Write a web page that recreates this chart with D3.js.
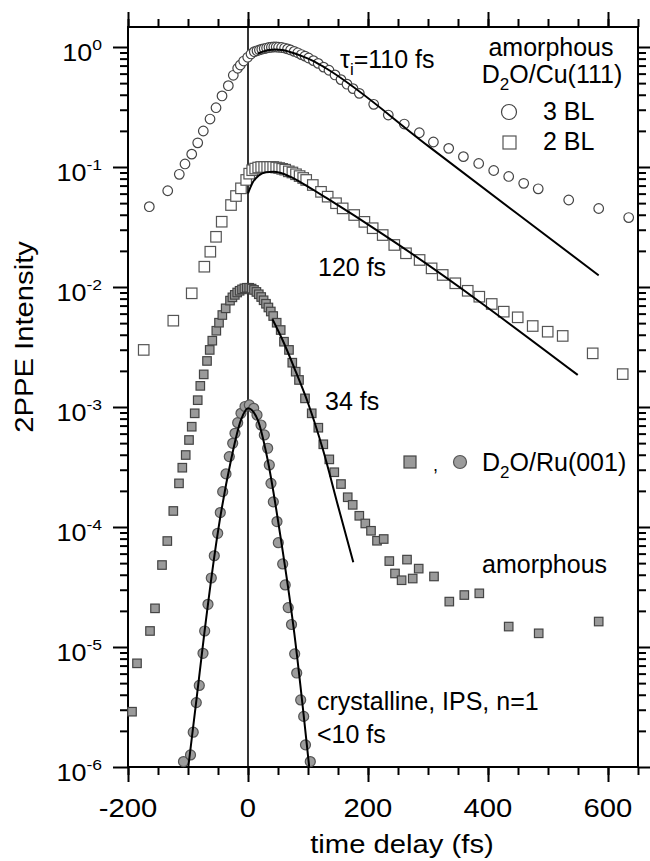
<!DOCTYPE html>
<html><head><meta charset="utf-8">
<script src="https://cdn.jsdelivr.net/npm/d3@7"></script>
<style>
body{margin:0;background:#fff}
svg{display:block}
text{font-family:"Liberation Sans",Arial,Helvetica,sans-serif;fill:#000}
</style>
</head><body>
<svg id="c" width="650" height="861"></svg>
<script>
// ---------- data ----------
// 3 BL amorphous D2O/Cu(111) (open circles)
const bl3T = [-164.5,-133.8,-114.5,-105,-93.8,-83.8,-74.5,-63.3,-53.3,-43.3,-32.8,-24.5,-17.2,-12.8,-7.2,-0.5,5,10.5,
  15,19,23,27,31,35,39,43,47,51,56,61,66,71,77,83,89,95,101,109,117,126,135,145,155,165,175,
  185.5,209.5,233.8,260.5,285.5,309,334.5,359,384.5,409.5,434.5,459.5,483.7,534.5,584.5,634.5];
const bl3I = [0.0467,0.0634,0.0869,0.106,0.128,0.159,0.1995,0.251,0.312,0.391,0.476,0.581,0.665,0.708,0.764,0.821,0.875,0.914,
  0.93,0.945,0.96,0.97,0.98,0.99,0.995,1.0,1.0,0.995,0.99,0.98,0.965,0.945,0.92,0.895,0.865,0.84,0.81,0.77,0.73,0.68,0.64,0.585,0.535,0.49,0.45,
  0.411,0.333,0.271,0.228,0.193,0.1615,0.143,0.122,0.107,0.0935,0.0834,0.0731,0.0658,0.0531,0.0451,0.0379];
// 3 BL fit (tau = 110 fs)
const fit3T = [16,25,35,45,57,70,90,110,130,300,450,584.5];
const fit3I = [0.88,0.915,0.945,0.955,0.945,0.91,0.84,0.76,0.665,0.150,0.0404,0.0125];

// 2 BL (open squares)
const bl2T = [-173.8,-124.5,-93.8,-72.8,-62.8,-53.3,-43.8,-28.3,-20,-11.7,-3,2,
  7,12,17,22,27,32,37,42,47,52,57,62,68,74,80,86,92,97,108,121.7,132.8,146.7,157.8,177,194,207.8,224.5,243.8,263.3,286,306,324.5,345.5,366.2,385.5,406.2,426.2,449.5,474.5,499.5,524.5,574.5,624.5];
const bl2I = [0.00299,0.00524,0.00886,0.01476,0.01968,0.0262,0.035,0.0482,0.0573,0.0664,0.078,0.088,
  0.094,0.097,0.099,0.1,0.1,0.1,0.1,0.1,0.099,0.098,0.0965,0.095,0.092,0.09,0.087,0.084,0.081,0.078,0.0708,0.0621,0.0566,0.0499,0.0452,0.0398,0.0349,0.0309,0.0271,0.0224,0.0191,0.0168,0.0143,0.0126,0.01074,0.0093,0.0083,0.00722,0.00623,0.00559,0.00473,0.00424,0.00391,0.0028,0.00188];
// 2 BL fit (120 fs)
const fit2T = [0,8,18,30,42,55,70,90,110,130,227,549.5];
const fit2I = [0.0604,0.0745,0.085,0.0905,0.0915,0.089,0.083,0.0735,0.064,0.0555,0.0271,0.00185];

// amorphous D2O/Ru(001) (grey squares)
const ruT = [-193.3,-185,-163.3,-155,-143.3,-134.5,-124.5,-115,-109.5,-103.8,-98.3,-93.8,-88.8,-83.8,-79.5,-73.8,-68.3,-63.8,-59.5,-52.8,-48.3,-42.8,-37.2,
  -30,-26,-22,-18,-14,-10,-6,-2,2,6,10,14,18,22,26,30,34,38,42,47.8,54.5,60,68.3,73.8,79.5,85,95,106.2,117.2,125.5,135.5,143.8,155,166.2,174.5,185.5,195.5,205,215,226.2,
  235.5,245,256,265,274.5,284.5,310,335.5,360.5,385.5,434.5,484.5,584.5];
const ruI = [2.89e-6,7.31e-6,1.36e-5,2.1e-5,4.82e-5,7.64e-5,1.36e-4,2.31e-4,3.12e-4,3.98e-4,5.31e-4,6.85e-4,8.86e-4,1.14e-3,1.5e-3,1.87e-3,2.42e-3,2.99e-3,3.57e-3,4.32e-3,5.04e-3,5.84e-3,6.64e-3,
  7.7e-3,8.2e-3,8.6e-3,9.0e-3,9.3e-3,9.55e-3,9.75e-3,9.85e-3,9.85e-3,9.7e-3,9.45e-3,9.1e-3,8.7e-3,8.25e-3,7.75e-3,7.25e-3,6.75e-3,6.25e-3,5.73e-3,5.04e-3,4.38e-3,3.5e-3,2.99e-3,2.34e-3,1.97e-3,1.68e-3,1.18e-3,8.86e-4,6.72e-4,4.89e-4,3.66e-4,2.86e-4,2.28e-4,1.77e-4,1.53e-4,1.24e-4,1.07e-4,9.3e-5,7.68e-5,7.94e-5,
  5.2e-5,4.1e-5,3.6e-5,5.35e-5,3.72e-5,4.5e-5,3.87e-5,2.39e-5,2.71e-5,2.8e-5,1.48e-5,1.3e-5,1.63e-5];
// Ru amorphous fit (34 fs)
const fitRuT = [40.8,60,80,100,125,150,175.5];
const fitRuI = [5.38e-3,3.4e-3,1.95e-3,1.08e-3,4.4e-4,1.5e-4,5.08e-5];

// crystalline IPS n=1 (grey circles)
const crT = [-107.5,-95.8,-91.3,-86.2,-81.2,-75,-72.2,-66.7,-61.2,-56.2,-50.5,-46.2,-42.2,-36.7,-31.2,-25.5,-21.7,-17.2,-11.7,-5,2.2,
  9.5,15,21.7,27.2,32.8,35.5,38.3,42.2,48.3,50.5,57.8,62,67,72.5,77.8,81.2,87.8,92.8,95.8,103.8];
const crI = [1.11e-6,1.26e-6,1.95e-6,3.44e-6,4.78e-6,8.86e-6,1.36e-5,2.27e-5,3.76e-5,5.76e-5,8.86e-5,1.32e-4,1.97e-4,2.77e-4,3.86e-4,4.98e-4,6.04e-4,7.4e-4,8.86e-4,1.01e-3,1.04e-3,
  9.75e-4,8.58e-4,7.08e-4,5.85e-4,4.53e-4,3.29e-4,2.31e-4,1.62e-4,1.11e-4,7.4e-5,4.92e-5,3.29e-5,2.13e-5,1.54e-5,8.77e-6,6.07e-6,3.62e-6,2.64e-6,1.53e-6,1.11e-6];
// crystalline fit (<10 fs)
const fitCrT = [-99.5,-86,-72.8,-50.5,-28.3,-11.7,0,16.2,32.8,55,77.2,102];
const fitCrI = [1e-6,3.6e-6,1.3e-5,8.86e-5,3.62e-4,7.8e-4,9.75e-4,7.8e-4,3.62e-4,7.8e-5,1.3e-5,1e-6];

// ticks
const xMajorTicks = [-200,0,200,400,600];
const xTickLabels = ["-200","0","200","400","600"];
const xMinorTicks = [-200,-150,-100,-50,0,50,100,150,200,250,300,350,400,450,500,550,600,650];
const yDecades = [1e-6,1e-5,1e-4,1e-3,1e-2,1e-1,1];
const yExp = ["-6","-5","-4","-3","-2","-1","0"];
const yMinorMult = [2,3,4,5,6,7,8,9];

// ---------- chart ----------
const svg = d3.select('#c');
const L=128, R=638, T=27, B=767;
const SX = 1.17; // horizontal stretch of the axis lettering
const x = d3.scaleLinear().domain([-200,650]).range([L,R]);
const y = d3.scaleLog().domain([1e-6, Math.pow(10,1/6)]).range([B,T]);

const yMinor = [];
yDecades.forEach(d=>yMinorMult.forEach(m=>{ if(d*m<=y.domain()[1]) yMinor.push(d*m); }));

function styleAxis(g){ g.select('.domain').remove(); g.selectAll('.tick line').attr('stroke','#000').attr('stroke-width',2); }

// bottom
svg.append('g').attr('transform',`translate(0,${B})`).call(d3.axisBottom(x).tickValues(xMinorTicks).tickSize(8).tickFormat('')).call(styleAxis);
svg.append('g').attr('transform',`translate(0,${B})`).call(d3.axisBottom(x).tickValues(xMajorTicks).tickSize(15).tickFormat('')).call(styleAxis);
// top
svg.append('g').attr('transform',`translate(0,${T})`).call(d3.axisTop(x).tickValues(xMinorTicks).tickSize(8).tickFormat('')).call(styleAxis);
svg.append('g').attr('transform',`translate(0,${T})`).call(d3.axisTop(x).tickValues(xMajorTicks).tickSize(15).tickFormat('')).call(styleAxis);
// left
svg.append('g').attr('transform',`translate(${L},0)`).call(d3.axisLeft(y).tickValues(yMinor).tickSize(8).tickFormat('')).call(styleAxis);
svg.append('g').attr('transform',`translate(${L},0)`).call(d3.axisLeft(y).tickValues(yDecades).tickSize(15).tickFormat('')).call(styleAxis);
// right
svg.append('g').attr('transform',`translate(${R},0)`).call(d3.axisRight(y).tickValues(yMinor).tickSize(8).tickFormat('')).call(styleAxis);
svg.append('g').attr('transform',`translate(${R},0)`).call(d3.axisRight(y).tickValues(yDecades).tickSize(15).tickFormat('')).call(styleAxis);

// x tick labels
const xlab = svg.append('g');
xMajorTicks.forEach((v,i)=>{
  xlab.append('text').attr('transform',`translate(${x(v)},${B+50}) scale(${SX},1)`)
    .attr('text-anchor','middle').attr('font-size',25).text(xTickLabels[i]);
});
// y tick labels 10^n
const ylab = svg.append('g');
yDecades.forEach((d,i)=>{
  const t = ylab.append('text').attr('transform',`translate(102,${y(d)+14}) scale(${SX},1)`).attr('text-anchor','end').attr('font-size',23);
  t.append('tspan').text('10');
  t.append('tspan').attr('dy',-11).attr('font-size',15).text(yExp[i]);
});

// frame
svg.append('rect').attr('x',L).attr('y',T).attr('width',R-L).attr('height',B-T).attr('fill','none').attr('stroke','#000').attr('stroke-width',2);
// zero line
svg.append('line').attr('x1',x(0)).attr('x2',x(0)).attr('y1',T).attr('y2',B).attr('stroke','#000').attr('stroke-width',1.6);

const plot = svg.append('g');
const line = d3.line().x(d=>x(d[0])).y(d=>y(d[1])).curve(d3.curveMonotoneX);
const zip = (a,b)=>a.map((v,i)=>[v,b[i]]);

function circles(T_,I_,r,fill,stroke){
  plot.append('g').selectAll('circle').data(zip(T_,I_)).join('circle')
    .attr('cx',d=>x(d[0])).attr('cy',d=>y(d[1])).attr('r',r)
    .attr('fill',fill).attr('stroke',stroke).attr('stroke-width',1.2);
}
function squares(T_,I_,s,fill,stroke){
  plot.append('g').selectAll('rect').data(zip(T_,I_)).join('rect')
    .attr('x',d=>x(d[0])-s/2).attr('y',d=>y(d[1])-s/2).attr('width',s).attr('height',s)
    .attr('fill',fill).attr('stroke',stroke).attr('stroke-width',1.2);
}
function fit(T_,I_){
  plot.append('path').datum(zip(T_,I_)).attr('d',line).attr('fill','none').attr('stroke','#000').attr('stroke-width',2);
}

squares(ruT,ruI,8.5,'#9a9a9a','#444');
circles(crT,crI,5,'#9c9c9c','#555');
circles(bl3T,bl3I,4.8,'#fff','#444');
squares(bl2T,bl2I,10.5,'#fff','#555');
fit(fit3T,fit3I);
fit(fit2T,fit2I);
fit(fitRuT,fitRuI);
fit(fitCrT,fitCrI);

// annotations
const ann = svg.append('g').attr('font-size',25);
function txt(xp,yp,anchor){ return ann.append('text').attr('x',xp).attr('y',yp).attr('text-anchor',anchor||'start'); }
{ const t = txt(340,68); t.append('tspan').text('\u03c4'); t.append('tspan').attr('dy',7).attr('font-size',17).text('i'); t.append('tspan').attr('dy',-7).text('=110 fs'); }
txt(551,56,'middle').text('amorphous');
{ const t = txt(552,83,'middle'); t.append('tspan').text('D'); t.append('tspan').attr('dy',7).attr('font-size',17).text('2'); t.append('tspan').attr('dy',-7).text('O/Cu(111)'); }
txt(543,120).text('3 BL');
txt(543,150).text('2 BL');
svg.append('circle').attr('cx',509).attr('cy',112).attr('r',7.5).attr('fill','#fff').attr('stroke','#444').attr('stroke-width',1.2);
svg.append('rect').attr('x',503).attr('y',136).attr('width',13).attr('height',13).attr('fill','#fff').attr('stroke','#555').attr('stroke-width',1.2);
txt(318,276).text('120 fs');
txt(325,410).text('34 fs');
svg.append('rect').attr('x',404).attr('y',456).attr('width',12).attr('height',12).attr('fill','#9a9a9a').attr('stroke','#444').attr('stroke-width',1.2);
txt(433,471).attr('font-size',18).text(',');
svg.append('circle').attr('cx',460).attr('cy',462).attr('r',6.5).attr('fill','#9c9c9c').attr('stroke','#555').attr('stroke-width',1.2);
{ const t = txt(482,471); t.append('tspan').text('D'); t.append('tspan').attr('dy',7).attr('font-size',17).text('2'); t.append('tspan').attr('dy',-7).text('O/Ru(001)'); }
txt(482,573).text('amorphous');
txt(317,710).text('crystalline, IPS, n=1');
txt(317,743).text('<10 fs');

// axis titles
ann.append('text').attr('transform',`translate(402,853) scale(${SX},1)`).attr('text-anchor','middle').text('time delay (fs)');
ann.append('text').attr('transform',`translate(33,337) rotate(-90) scale(${SX},1)`).attr('text-anchor','middle').text('2PPE Intensity');
</script>
</body></html>
